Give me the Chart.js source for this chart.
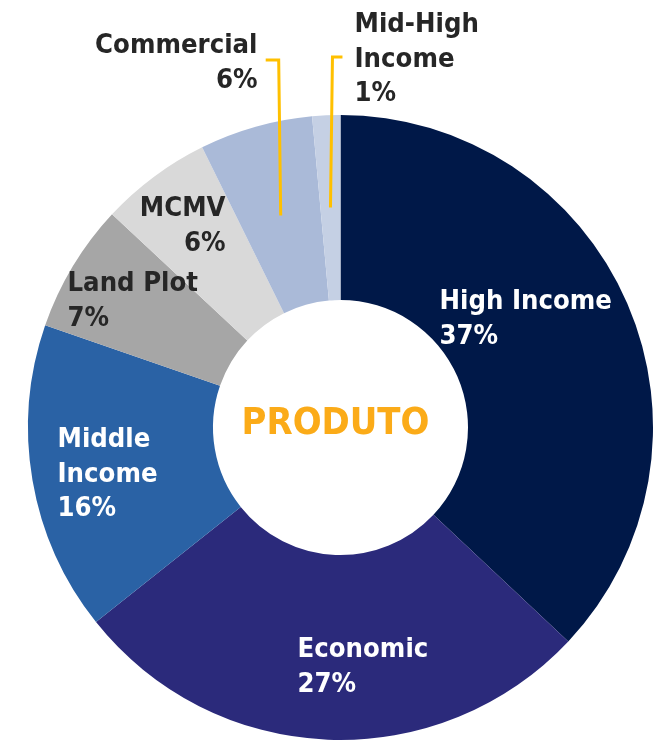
<!DOCTYPE html>
<html>
<head>
<meta charset="utf-8">
<script src="https://cdn.jsdelivr.net/npm/chart.js@4"></script>
<style>
  html, body { margin: 0; padding: 0; background: #ffffff; }
  canvas { display: block; }
</style>
</head>
<body>
<canvas id="c" width="654" height="741"></canvas>
<script>
// ---- data ----
const categories = ["High Income", "Economic", "Middle Income", "Land Plot", "MCMV", "Commercial", "Mid-High Income"];
const shares = [37.0, 27.3, 16.0, 6.65, 5.75, 5.85, 1.45];
const pctLabels = ["37%", "27%", "16%", "7%", "6%", "6%", "1%"];
const centerTitle = "PRODUTO";

// ---- styles ----
const sliceColors = ["#001848", "#2b2a7b", "#2a62a5", "#a6a6a6", "#d9d9d9", "#aabad8", "#c5d0e4"];
const labelLines = [
  ["High Income", "37%"],
  ["Economic", "27%"],
  ["Middle", "Income", "16%"],
  ["Land Plot", "7%"],
  ["MCMV", "6%"],
  ["Commercial", "6%"],
  ["Mid-High", "Income", "1%"]
];
// label placement relative to doughnut centre (first baseline)
const labelPlace = [
  { dx: 99,   dy: -118.5, align: "left",  color: "#ffffff" },
  { dx: -43,  dy: 229.5,  align: "left",  color: "#ffffff" },
  { dx: -283, dy: 19.5,   align: "left",  color: "#ffffff" },
  { dx: -273, dy: -136.5, align: "left",  color: "#262626" },
  { dx: -115, dy: -211.5, align: "right", color: "#262626" },
  { dx: -83,  dy: -374.5, align: "right", color: "#262626" },
  { dx: 14,   dy: -395.5, align: "left",  color: "#262626" }
];
// leader lines: slice index, top y rel. centre, tick direction
const leaders = [
  { idx: 5, topDy: -367.5, tick: -13 },
  { idx: 6, topDy: -370.5, tick: 10 }
];

function tallText(ctx, t, x, y, sy) {
  ctx.save();
  ctx.translate(x, y);
  ctx.scale(1, sy);
  ctx.fillText(t, 0, 0);
  ctx.restore();
}

const labelPlugin = {
  id: "labels",
  afterDatasetsDraw(chart) {
    const ctx = chart.ctx;
    const meta = chart.getDatasetMeta(0);
    const a0 = meta.data[0];
    const cx = a0.x, cy = a0.y;
    ctx.save();
    // leader lines
    ctx.strokeStyle = "#ffc000";
    ctx.lineWidth = 3;
    ctx.lineJoin = "miter";
    leaders.forEach(l => {
      const arc = meta.data[l.idx];
      const mid = (arc.startAngle + arc.endAngle) / 2;
      const r = arc.outerRadius * 0.705;
      const ex = cx + Math.cos(mid) * r;
      const ey = cy + Math.sin(mid) * r;
      const topX = ex - (l.tick < 0 ? 2 : -2);
      const topY = cy + l.topDy;
      ctx.beginPath();
      ctx.moveTo(topX + l.tick, topY);
      ctx.lineTo(topX, topY);
      ctx.lineTo(ex, ey);
      ctx.stroke();
    });
    // slice labels
    ctx.font = "bold 24.5px 'DejaVu Sans'";
    ctx.textBaseline = "alphabetic";
    labelLines.forEach((lines, i) => {
      const p = labelPlace[i];
      ctx.fillStyle = p.color;
      ctx.textAlign = p.align;
      lines.forEach((t, k) => {
        tallText(ctx, t, cx + p.dx, cy + p.dy + k * 34.5, 1.06);
      });
    });
    // centre title
    ctx.font = "bold 34px 'DejaVu Sans'";
    ctx.fillStyle = "#fbab18";
    ctx.textAlign = "center";
    tallText(ctx, centerTitle, cx - 5, cy + 6.5, 1.08);
    ctx.restore();
  }
};

new Chart(document.getElementById("c"), {
  type: "doughnut",
  data: {
    labels: categories,
    datasets: [{
      data: shares,
      backgroundColor: sliceColors,
      borderWidth: 0,
      hoverOffset: 0
    }]
  },
  options: {
    responsive: false,
    animation: false,
    cutout: "40.8%",
    layout: { padding: { left: 28, right: 1, top: 115, bottom: 1 } },
    plugins: {
      legend: { display: false },
      tooltip: { enabled: false }
    }
  },
  plugins: [labelPlugin]
});
</script>
</body>
</html>
